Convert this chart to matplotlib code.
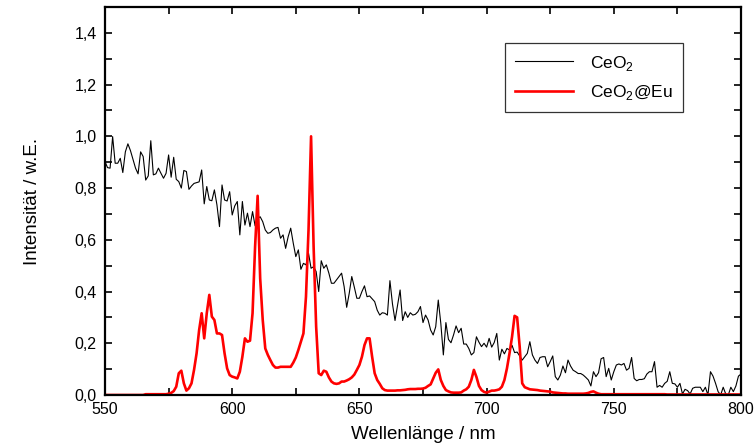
import numpy as np
import matplotlib
matplotlib.use("Agg")
import matplotlib.pyplot as plt
from matplotlib.ticker import MultipleLocator, FuncFormatter

plt.rcParams['font.family'] = ['Liberation Sans', 'DejaVu Sans']
plt.rcParams['mathtext.fontset'] = 'custom'
plt.rcParams['mathtext.rm'] = 'Liberation Sans'

# wavelength grid of the spectra, 1 nm steps
wavelength = np.arange(550, 801)

# CeO2 (black), values, 550..800 nm
ceo2 = [
    0.902, 0.879, 0.877, 0.999, 0.896, 0.896, 0.915, 0.860, 0.940, 0.971,  # 550
    0.945, 0.911, 0.877, 0.855, 0.940, 0.922, 0.831, 0.847, 0.983, 0.851,  # 560
    0.855, 0.877, 0.857, 0.838, 0.857, 0.928, 0.842, 0.919, 0.834, 0.825,  # 570
    0.800, 0.868, 0.864, 0.795, 0.808, 0.818, 0.821, 0.824, 0.870, 0.739,  # 580
    0.806, 0.754, 0.751, 0.793, 0.735, 0.651, 0.812, 0.754, 0.750, 0.786,  # 590
    0.696, 0.731, 0.748, 0.619, 0.748, 0.657, 0.703, 0.651, 0.709, 0.654,  # 600
    0.683, 0.689, 0.670, 0.638, 0.625, 0.628, 0.638, 0.645, 0.648, 0.606,  # 610
    0.619, 0.567, 0.612, 0.645, 0.587, 0.535, 0.561, 0.486, 0.509, 0.503,  # 620
    0.548, 0.490, 0.496, 0.477, 0.400, 0.519, 0.490, 0.503, 0.471, 0.432,  # 630
    0.432, 0.445, 0.458, 0.471, 0.419, 0.339, 0.393, 0.458, 0.417, 0.374,  # 640
    0.374, 0.400, 0.422, 0.380, 0.383, 0.372, 0.361, 0.328, 0.309, 0.318,  # 650
    0.316, 0.309, 0.442, 0.352, 0.288, 0.348, 0.406, 0.288, 0.322, 0.300,  # 660
    0.318, 0.309, 0.312, 0.322, 0.342, 0.280, 0.309, 0.290, 0.251, 0.232,  # 670
    0.264, 0.367, 0.277, 0.155, 0.280, 0.215, 0.202, 0.232, 0.267, 0.241,  # 680
    0.258, 0.197, 0.197, 0.180, 0.155, 0.164, 0.225, 0.204, 0.187, 0.200,  # 690
    0.185, 0.219, 0.185, 0.203, 0.238, 0.135, 0.177, 0.159, 0.180, 0.174,  # 700
    0.192, 0.164, 0.166, 0.151, 0.135, 0.148, 0.161, 0.206, 0.155, 0.135,  # 710
    0.122, 0.145, 0.148, 0.148, 0.109, 0.129, 0.151, 0.071, 0.058, 0.077,  # 720
    0.112, 0.086, 0.135, 0.112, 0.096, 0.090, 0.083, 0.083, 0.077, 0.068,  # 730
    0.058, 0.035, 0.090, 0.071, 0.086, 0.140, 0.145, 0.071, 0.103, 0.058,  # 740
    0.090, 0.116, 0.120, 0.116, 0.122, 0.096, 0.103, 0.145, 0.064, 0.055,  # 750
    0.060, 0.060, 0.063, 0.081, 0.090, 0.090, 0.129, 0.030, 0.037, 0.030,  # 760
    0.045, 0.053, 0.090, 0.045, 0.043, 0.030, 0.045, 0.004, 0.022, 0.017,  # 770
    0.004, 0.026, 0.030, 0.030, 0.030, 0.013, 0.030, 0.000, 0.090, 0.073,  # 780
    0.045, 0.013, 0.000, 0.030, 0.004, 0.000, 0.030, 0.013, 0.035, 0.073,  # 790
    0.081,                                                                 # 800
]

# CeO2@Eu (red), Eu3+ emission lines, 550..800 nm
ceo2_eu = [
    0.000, 0.000, 0.000, 0.000, 0.000, 0.000, 0.000, 0.000, 0.000, 0.000,  # 550
    0.000, 0.000, 0.000, 0.000, 0.000, 0.000, 0.003, 0.003, 0.003, 0.003,  # 560
    0.003, 0.003, 0.003, 0.003, 0.003, 0.005, 0.008, 0.015, 0.032, 0.084,  # 570
    0.094, 0.045, 0.017, 0.026, 0.045, 0.097, 0.161, 0.251, 0.316, 0.219,  # 580
    0.316, 0.387, 0.303, 0.290, 0.238, 0.238, 0.232, 0.161, 0.103, 0.077,  # 590
    0.071, 0.068, 0.064, 0.090, 0.148, 0.219, 0.206, 0.210, 0.316, 0.574,  # 600
    0.770, 0.450, 0.290, 0.180, 0.155, 0.135, 0.116, 0.106, 0.106, 0.109,  # 610
    0.109, 0.109, 0.109, 0.109, 0.125, 0.145, 0.174, 0.206, 0.238, 0.380,  # 620
    0.638, 1.000, 0.574, 0.264, 0.084, 0.077, 0.094, 0.090, 0.068, 0.052,  # 630
    0.045, 0.043, 0.045, 0.052, 0.052, 0.056, 0.061, 0.068, 0.079, 0.097,  # 640
    0.116, 0.148, 0.193, 0.219, 0.219, 0.148, 0.084, 0.058, 0.043, 0.026,  # 650
    0.019, 0.017, 0.017, 0.017, 0.017, 0.018, 0.018, 0.019, 0.020, 0.022,  # 660
    0.023, 0.023, 0.023, 0.024, 0.024, 0.025, 0.028, 0.035, 0.041, 0.064,  # 670
    0.086, 0.099, 0.058, 0.035, 0.019, 0.014, 0.010, 0.009, 0.009, 0.009,  # 680
    0.010, 0.017, 0.022, 0.032, 0.058, 0.097, 0.070, 0.035, 0.019, 0.012,  # 690
    0.009, 0.013, 0.017, 0.017, 0.019, 0.022, 0.032, 0.058, 0.103, 0.161,  # 700
    0.225, 0.306, 0.300, 0.187, 0.045, 0.030, 0.026, 0.022, 0.021, 0.020,  # 710
    0.019, 0.017, 0.016, 0.015, 0.014, 0.013, 0.010, 0.009, 0.008, 0.007,  # 720
    0.006, 0.006, 0.005, 0.005, 0.005, 0.005, 0.005, 0.005, 0.005, 0.006,  # 730
    0.008, 0.012, 0.014, 0.009, 0.005, 0.003, 0.003, 0.003, 0.003, 0.003,  # 740
    0.003, 0.003, 0.003, 0.003, 0.003, 0.003, 0.003, 0.003, 0.003, 0.003,  # 750
    0.003, 0.003, 0.003, 0.003, 0.003, 0.003, 0.003, 0.003, 0.003, 0.003,  # 760
    0.003, 0.002, 0.002, 0.002, 0.002, 0.002, 0.002, 0.002, 0.002, 0.002,  # 770
    0.002, 0.002, 0.002, 0.002, 0.002, 0.002, 0.002, 0.002, 0.002, 0.002,  # 780
    0.002, 0.002, 0.002, 0.002, 0.002, 0.002, 0.002, 0.002, 0.002, 0.002,  # 790
    0.002,                                                                 # 800
]

fig = plt.figure(figsize=(7.56, 4.48), dpi=100)
ax = fig.add_axes([105 / 756, 53 / 448, 636 / 756, 388 / 448])

ax.plot(wavelength, ceo2, color='black', lw=0.8, label=r'CeO$_2$')
ax.plot(wavelength, ceo2_eu, color='#ff0000', lw=1.9, label=r'CeO$_2$@Eu')

ax.set_xlim(550, 800)
ax.set_ylim(0, 1.5)

# ticks every 25 nm / 0.1, labels only on every other one
ax.xaxis.set_major_locator(MultipleLocator(25))
ax.yaxis.set_major_locator(MultipleLocator(0.1))
ax.xaxis.set_major_formatter(
    FuncFormatter(lambda v, p: '%d' % v if round(v) % 50 == 0 else ''))
ax.yaxis.set_major_formatter(
    FuncFormatter(lambda v, p: ('%.1f' % v).replace('.', ',')
                  if round(v * 10) % 2 == 0 else ''))
ax.tick_params(direction='in', length=5, width=1.2, top=True, right=True,
               labelsize=11.5, pad=6)
ax.tick_params(axis='x', pad=5)

for sp in ax.spines.values():
    sp.set_linewidth(1.6)

ax.set_xlabel('Wellenlänge / nm', fontsize=13.5, labelpad=6.5)
ax.set_ylabel('Intensität / w.E.', fontsize=13.5, labelpad=24)

leg = ax.legend(loc='upper left', bbox_to_anchor=(0.629, 0.907),
                borderaxespad=0, fontsize=12.5, fancybox=False,
                edgecolor='black', handlelength=3.3, handletextpad=1.0,
                borderpad=0.6, labelspacing=0.6)
leg.get_frame().set_linewidth(0.9)

plt.savefig('out.png', dpi=100)
